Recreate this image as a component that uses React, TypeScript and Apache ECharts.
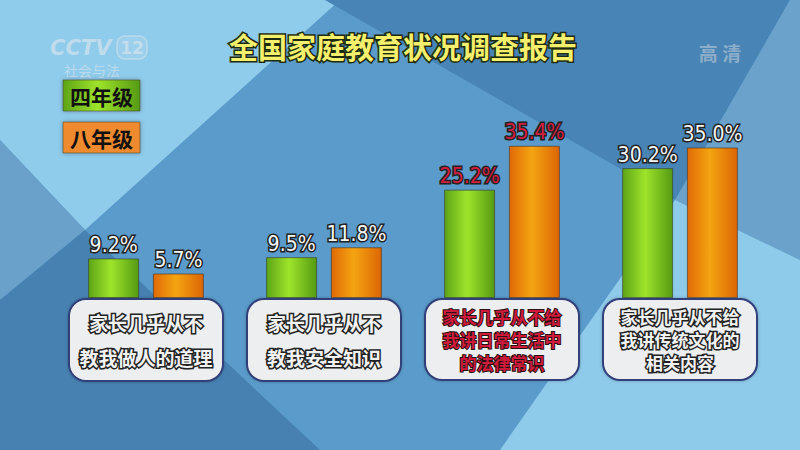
import React, { useEffect, useRef } from 'react';
import * as echarts from 'echarts';

// 数据
const categories = [
  ['家长几乎从不', '教我做人的道理'],
  ['家长几乎从不', '教我安全知识'],
  ['家长几乎从不给', '我讲日常生活中', '的法律常识'],
  ['家长几乎从不给', '我讲传统文化的', '相关内容'],
];
const grade4 = [9.2, 9.5, 25.2, 30.2];
const grade8 = [5.7, 11.8, 35.4, 35.0];
const seriesNames = ['四年级', '八年级'];
const titleText = '全国家庭教育状况调查报告';
const highlightIndex = 2;

const CJK = '"Noto Sans CJK SC", sans-serif';
const NUM = '"DejaVu Sans Condensed", "DejaVu Sans", sans-serif';

const greenFill = new echarts.graphic.LinearGradient(0, 0, 1, 0, [
  { offset: 0, color: '#5ea417' },
  { offset: 0.45, color: '#9ee42b' },
  { offset: 1, color: '#559a12' },
]);
const orangeFill = new echarts.graphic.LinearGradient(0, 0, 1, 0, [
  { offset: 0, color: '#e06a06' },
  { offset: 0.45, color: '#f4a412' },
  { offset: 1, color: '#dc6504' },
]);

const bgPolygons = (): any[] => [
  // 左上浅蓝
  { points: [[0, 0], [340, 0], [85, 230], [0, 140]], fill: '#8fcbea' },
  // 左侧灰蓝
  { points: [[0, 140], [85, 230], [0, 300]], fill: '#6aa1cb' },
  // 左下深蓝
  { points: [[0, 300], [85, 230], [320, 450], [0, 450]], fill: '#4681b2' },
  // 上方深蓝
  { points: [[325, 0], [790, 0], [675, 200]], fill: '#4884b5' },
  // 右上灰蓝
  { points: [[790, 0], [800, 0], [800, 260], [675, 200]], fill: '#6aa2cb' },
  // 右下浅蓝
  { points: [[675, 200], [800, 260], [800, 450], [500, 450]], fill: '#8ecaea' },
].map((p) => ({
  type: 'polygon',
  z: -10,
  silent: true,
  shape: { points: p.points },
  style: { fill: p.fill },
}));

const legendBox = (y: number, name: string, fill: any) => ({
  type: 'group',
  x: 63,
  y,
  children: [
    {
      type: 'rect',
      shape: { x: 0, y: 0, width: 77, height: 31 },
      style: { fill, stroke: 'rgba(60,60,40,0.5)', lineWidth: 1, shadowBlur: 4, shadowColor: 'rgba(0,0,0,0.3)' },
    },
    {
      type: 'text',
      x: 38.5,
      y: 16,
      style: {
        text: name,
        fill: '#111',
        font: `bold 21px ${CJK}`,
        align: 'center',
        verticalAlign: 'middle',
      },
    },
  ],
});

const App: React.FC = () => {
  const chartRef = useRef<HTMLDivElement>(null);

  useEffect(() => {
    if (!chartRef.current) return;
    const chart = echarts.init(chartRef.current, undefined, { renderer: 'svg' });

    const labelFmt = (p: any) => `${Number(p.value).toFixed(1)}%`;
    const valueLabel = {
      show: true,
      position: 'top',
      distance: 3,
      formatter: labelFmt,
      fontFamily: NUM,
      fontSize: 21,
      color: '#f4f6f8',
      textBorderColor: '#222',
      textBorderWidth: 3,
    };
    const mkData = (arr: number[]) =>
      arr.map((v, i) => ({
        value: v,
        label: i === highlightIndex ? { color: '#d41e40' } : undefined,
      }));

    const options: echarts.EChartsOption = {
      animation: false,
      backgroundColor: '#5a9bcb',
      grid: { left: 57, right: 31, top: 126, bottom: 152 },
      xAxis: {
        type: 'category',
        data: categories.map((c) => c.join('\n')),
        axisLine: { show: false },
        axisTick: { show: false },
        axisLabel: {
          interval: 0,
          margin: 2,
          width: 140,
          align: 'center',
          padding: [5, 6],
          backgroundColor: '#eceef0',
          borderColor: '#33407a',
          borderWidth: 2,
          borderRadius: 16,
          shadowBlur: 3,
          shadowColor: 'rgba(0,0,0,0.25)',
          formatter: (_v: string, idx: number) => {
            const lines = categories[idx];
            const key = idx === highlightIndex ? 'r' : lines.length > 2 ? 'b' : 'a';
            return lines.map((l) => `{${key}|${l}}`).join('\n');
          },
          rich: {
            a: {
              fontFamily: CJK, fontWeight: 'bold', fontSize: 19, lineHeight: 35,
              color: '#f2f2f2', textBorderColor: '#222', textBorderWidth: 3, align: 'center',
            },
            b: {
              fontFamily: CJK, fontWeight: 'bold', fontSize: 17, lineHeight: 23,
              color: '#f2f2f2', textBorderColor: '#222', textBorderWidth: 3, align: 'center',
            },
            r: {
              fontFamily: CJK, fontWeight: 'bold', fontSize: 17, lineHeight: 23,
              color: '#d01c3c', textBorderColor: '#2a1010', textBorderWidth: 2, align: 'center',
            },
          },
        },
      },
      yAxis: {
        type: 'value',
        min: 0,
        max: 40,
        show: false,
      },
      series: [
        {
          name: seriesNames[0],
          type: 'bar',
          barWidth: 51,
          barGap: '27%',
          data: mkData(grade4),
          itemStyle: { color: greenFill, borderColor: 'rgba(50,60,30,0.6)', borderWidth: 1 },
          label: valueLabel as any,
        },
        {
          name: seriesNames[1],
          type: 'bar',
          barWidth: 51,
          data: mkData(grade8),
          itemStyle: { color: orangeFill, borderColor: 'rgba(70,50,30,0.6)', borderWidth: 1 },
          label: valueLabel as any,
        },
      ],
      graphic: [
        ...bgPolygons(),
        // 台标
        {
          type: 'text',
          x: 50,
          y: 37,
          style: {
            text: 'CCTV',
            font: `italic bold 21px "DejaVu Sans", sans-serif`,
            fill: 'rgba(225,232,240,0.6)',
          },
        },
        {
          type: 'rect',
          shape: { x: 117, y: 36, width: 30, height: 23, r: 8 },
          style: { fill: 'rgba(225,232,240,0.15)', stroke: 'rgba(225,232,240,0.5)', lineWidth: 1.5 },
        },
        {
          type: 'text',
          x: 132,
          y: 48,
          style: {
            text: '12',
            font: `bold 17px "DejaVu Sans", sans-serif`,
            fill: 'rgba(225,232,240,0.6)',
            align: 'center',
            verticalAlign: 'middle',
          },
        },
        {
          type: 'text',
          x: 64,
          y: 63,
          style: { text: '社会与法', font: `14px ${CJK}`, fill: 'rgba(225,232,240,0.55)' },
        },
        {
          type: 'text',
          x: 720,
          y: 52,
          style: {
            text: '高 清',
            font: `bold 19px ${CJK}`,
            fill: 'rgba(200,210,222,0.55)',
            align: 'center',
            verticalAlign: 'middle',
          },
        },
        // 标题
        {
          type: 'text',
          x: 403,
          y: 46,
          style: {
            text: titleText,
            font: `bold 29px ${CJK}`,
            fill: '#f4ef6c',
            stroke: '#1e2a0e',
            lineWidth: 3,
            align: 'center',
            verticalAlign: 'middle',
          },
        },
        // 图例
        legendBox(80, seriesNames[0], greenFill),
        legendBox(122, seriesNames[1], '#ef8a2e'),
      ],
    };

    chart.setOption(options, true);
    return () => {
      chart.dispose();
    };
  }, []);

  return (
    <div
      ref={chartRef}
      style={{ position: 'absolute', left: 0, top: 0, width: 800, height: 450 }}
    />
  );
};

export default App;
